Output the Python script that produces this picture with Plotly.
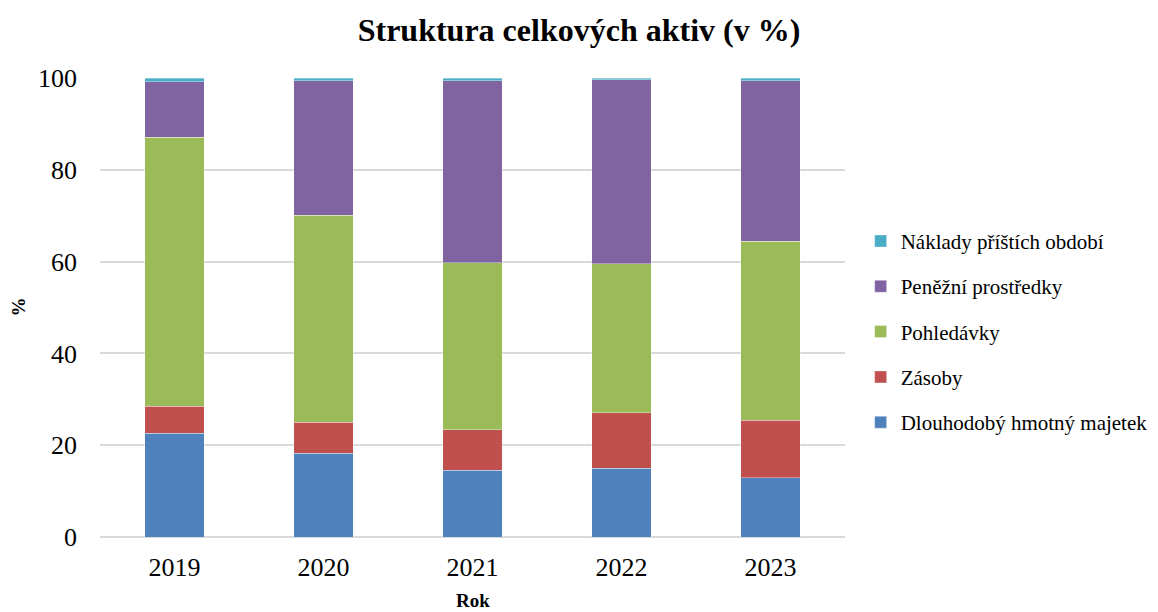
import plotly.graph_objects as go

# Balance-sheet asset structure, share of total assets in %
years = ["2019", "2020", "2021", "2022", "2023"]
dlouhodoby_majetek = [22.6, 18.25, 14.55, 15.0, 12.95]
zasoby = [5.9, 6.75, 8.85, 12.1, 12.45]
pohledavky = [58.55, 45.1, 36.3, 32.4, 39.0]
penezni_prostredky = [12.15, 29.25, 39.7, 40.1, 34.95]
naklady_pristich_obdobi = [0.8, 0.65, 0.58, 0.36, 0.65]

series = [
    ("Dlouhodobý hmotný majetek", dlouhodoby_majetek, "#4F81BD"),
    ("Zásoby", zasoby, "#C0504D"),
    ("Pohledávky", pohledavky, "#9BBB59"),
    ("Peněžní prostředky", penezni_prostredky, "#8064A2"),
    ("Náklady příštích období", naklady_pristich_obdobi, "#4BACC6"),
]

font_family = "Liberation Serif, Times New Roman, serif"

fig = go.Figure()
n = len(series)
for i, (name, values, color) in enumerate(series):
    fig.add_trace(go.Bar(
        x=years,
        y=values,
        name=name,
        legendgroup=f"g{i}",
        legendrank=n - i,  # top of the stack listed first
        marker=dict(color=color, line=dict(color="rgba(255,255,255,0.6)", width=0.6)),
    ))

fig.update_layout(
    barmode="stack",
    bargap=0.6,
    width=1158,
    height=612,
    margin=dict(l=100, r=313, t=78, b=75, autoexpand=False),
    paper_bgcolor="white",
    plot_bgcolor="white",
    font=dict(family=font_family, color="black"),
    title=dict(
        text="<b>Struktura celkových aktiv (v %)</b>",
        x=0.5, xref="container", xanchor="center",
        y=0.952, yref="container", yanchor="middle",
        font=dict(size=32, family=font_family, color="black"),
    ),
    legend=dict(
        traceorder="grouped",
        tracegroupgap=15,
        x=1.021, xanchor="left", xref="paper",
        y=0.447, yanchor="middle",
        font=dict(size=21, family=font_family, color="black"),
        itemwidth=30,
    ),
    xaxis=dict(
        tickfont=dict(size=26, family=font_family),
        showgrid=False,
        showline=False,
        ticks="",
        ticklabelstandoff=12,
        automargin=False,
        domain=[0, 1],
    ),
    yaxis=dict(
        range=[0, 100],
        tickvals=[0, 20, 40, 60, 80, 100],
        tickfont=dict(size=26, family=font_family),
        showgrid=True,
        gridcolor="#D9D9D9",
        gridwidth=1.5,
        zeroline=True,
        zerolinecolor="#D9D9D9",
        zerolinewidth=1.5,
        showline=False,
        ticks="",
        ticklabelstandoff=22,
        automargin=False,
    ),
    annotations=[
        dict(
            text="<b>Rok</b>", x=0.5, xref="paper", y=-0.139, yref="paper",
            xanchor="center", yanchor="middle", showarrow=False,
            font=dict(size=19, family=font_family, color="black"),
        ),
        dict(
            text="<b>%</b>", x=-0.11, xref="paper", y=0.5, yref="paper",
            xanchor="center", yanchor="middle", showarrow=False, textangle=-90,
            font=dict(size=19, family=font_family, color="black"),
        ),
    ],
)

fig.write_html("out.html")
